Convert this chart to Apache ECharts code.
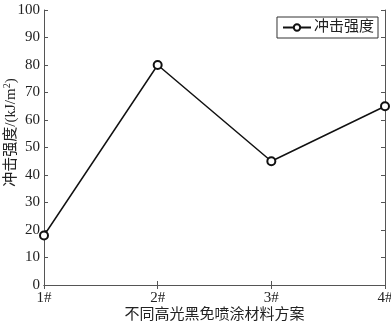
<!DOCTYPE html>
<html><head><meta charset="utf-8">
<script src="https://cdn.jsdelivr.net/npm/echarts@6/dist/echarts.min.js"></script>
<style>html,body{margin:0;padding:0;background:#fff}#c{width:391px;height:322px}</style>
</head><body><div id="c"></div>
<script>
var categories = ['1#', '2#', '3#', '4#'];
var impactStrength = [18, 80, 45, 65];
var seriesName = '冲击强度';
var xTitle = '不同高光黑免喷涂材料方案';

var chart = echarts.init(document.getElementById('c'));
var font = '"Liberation Serif","Noto Sans CJK SC",serif';
var axisCol = '#555';
chart.setOption({
  animation: false,
  backgroundColor: '#fff',
  grid: {left: 44, right: 6, top: 10, bottom: 37, containLabel: false, outerBoundsMode: 'none'},
  legend: {
    right: 13, top: 17, orient: 'horizontal',
    data: [seriesName],
    itemWidth: 28, itemHeight: 8,
    borderColor: '#333', borderWidth: 1, borderRadius: 0,
    padding: [3, 4, 3, 5],
    textStyle: {fontFamily: font, fontSize: 15, color: '#222', padding: [0,0,0,-2]}
  },
  xAxis: [{
    type: 'category', data: categories, boundaryGap: false,
    name: xTitle, nameLocation: 'middle', nameGap: 23, nameMoveOverlap: false,
    nameTextStyle: {fontFamily: font, fontSize: 15, color: '#222'},
    axisLine: {lineStyle: {color: axisCol, width: 1}},
    axisTick: {inside: true, length: 4, alignWithLabel: true, lineStyle: {color: axisCol}},
    axisLabel: {fontFamily: font, fontSize: 15, color: '#222', margin: 6},
    splitLine: {show: false}
  }, {
    type: 'category', data: categories, boundaryGap: false, position: 'top',
    axisLine: {lineStyle: {color: axisCol, width: 1}},
    axisTick: {inside: true, length: 4, lineStyle: {color: axisCol}},
    axisLabel: {show: false}
  }],
  yAxis: [{
    type: 'value', min: 0, max: 100, interval: 10,
    name: '冲击强度/(kJ/m{sup|2})', nameLocation: 'middle', nameGap: 24, nameMoveOverlap: false,
    nameTextStyle: {fontFamily: font, fontSize: 15, color: '#222', padding: [0, 0, 0, 30],
      rich: {sup: {fontFamily: font, fontSize: 10, color: '#222', verticalAlign: 'top', padding: [0,0,8,0]}}},
    axisLine: {show: true, lineStyle: {color: axisCol, width: 1}},
    axisTick: {show: true, inside: true, length: 4, lineStyle: {color: axisCol}},
    axisLabel: {fontFamily: font, fontSize: 15, color: '#222', margin: 4},
    splitLine: {show: false}
  }, {
    type: 'value', min: 0, max: 100, interval: 10, position: 'right',
    axisLine: {show: true, lineStyle: {color: axisCol, width: 1}},
    axisTick: {show: true, inside: true, length: 4, lineStyle: {color: axisCol}},
    axisLabel: {show: false}, splitLine: {show: false}
  }],
  series: [{
    name: seriesName, type: 'line', data: impactStrength,
    symbol: 'emptyCircle', symbolSize: 8,
    lineStyle: {color: '#111', width: 1.5},
    itemStyle: {color: '#111', borderWidth: 1.5},
    z: 5
  }]
});
</script></body></html>
